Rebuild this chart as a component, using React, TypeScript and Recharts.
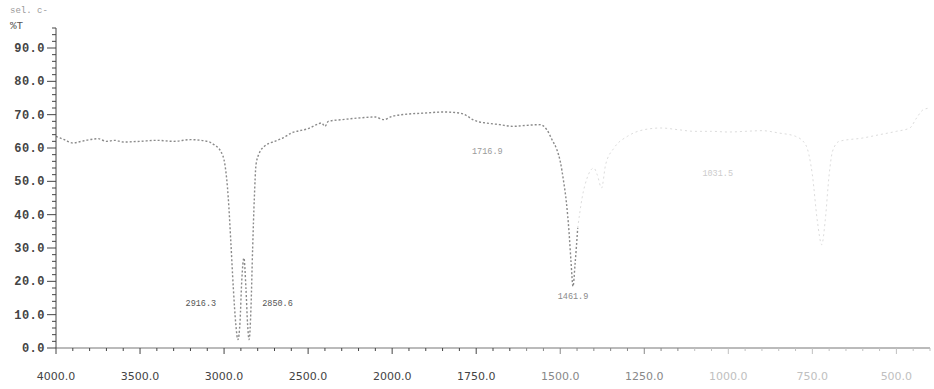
import { LineChart, Line, XAxis, YAxis, ReferenceDot } from "recharts";

// IR spectrum, %T vs wavenumber (cm-1); the axis changes scale at 2000
const wavenumbers = [
  4000, 3950, 3900, 3850, 3800, 3750, 3700, 3650, 3600, 3500, 3400, 3300, 3200, 3100, 3060, 3020,
  2995, 2975, 2960, 2945, 2930, 2918, 2905, 2895, 2882, 2870, 2860, 2851, 2840, 2830, 2820, 2810,
  2790, 2760, 2700, 2650, 2600, 2550, 2500, 2450, 2420, 2400, 2380, 2300, 2200, 2100, 2050, 2000,
  1950, 1900, 1850, 1800, 1780, 1760, 1740, 1720, 1680, 1640, 1600, 1560, 1540, 1524, 1510, 1500,
  1490, 1482, 1474, 1468, 1462, 1456, 1448,
];
const transmittance = [
  63.5, 62.5, 61.5, 62, 62.5, 62.8, 62, 62.3, 61.8, 62, 62.3, 62, 62.5, 62, 61, 59,
  55, 45, 32, 18, 7, 2.5, 8, 20, 27, 18, 7, 2.5, 12, 30, 45, 55,
  58.5, 60.5, 62, 63, 64.5, 65.2, 65.8, 67, 67.5, 66.5, 68, 68.5, 69, 69.3, 68.5, 69.5,
  70.2, 70.5, 70.8, 70.5, 69.8, 68.5, 67.8, 67.5, 67, 66.5, 66.8, 67, 65.5, 62.4, 59.5, 56,
  50, 44, 35, 26, 18.5, 25, 36,
];

// the low-wavenumber part is barely visible on the scan
const faintWavenumbers = [
  1448, 1435, 1420, 1400, 1390, 1377, 1365, 1340, 1300, 1250, 1200, 1150, 1100, 1050, 1000, 950,
  900, 850, 800, 770, 750, 735, 722, 712, 700, 690, 670, 600, 550, 500, 460, 440, 420, 400,
];
const faintTransmittance = [
  36, 45, 51, 54, 52, 48, 55, 60, 63.5, 65.5, 66, 65.5, 65, 65, 64.8, 65,
  65.2, 64.5, 63.5, 61, 52, 38, 31, 38, 52, 59, 62, 63, 64, 65, 66, 69, 71.5, 72,
];

const xTickLabels = [
  "4000.0", "3500.0", "3000.0", "2500.0", "2000.0", "1750.0", "1500.0", "1250.0", "1000.0", "750.0", "500.0",
];
const yTickLabels = ["0.0", "10.0", "20.0", "30.0", "40.0", "50.0", "60.0", "70.0", "80.0", "90.0"];

const peakWavenumbers = [2916.3, 2850.6, 1716.9, 1461.9, 1031.5];
const peakLabelLevels = [13.5, 13.5, 59, 15.5, 52.5];
const peakLabelSides = ["left", "right", "center", "center", "center"];
const peakLabelOffsets = [22, 13, 0, 0, 0];
const peakLabelColors = ["#555", "#555", "#9a9a9a", "#8a8a8a", "#cccccc"];

const toPos = (wn: number) => (wn >= 2000 ? (4000 - wn) / 500 : 4 + (2000 - wn) / 250);

const mainData = wavenumbers.map((wn, i) => ({ pos: toPos(wn), t: transmittance[i] }));
const faintData = faintWavenumbers.map((wn, i) => ({ pos: toPos(wn), t: faintTransmittance[i] }));

const xTicks = Array.from({ length: 53 }, (_, i) => Math.round(i * 2) / 10);
const yTicks = Array.from({ length: 49 }, (_, i) => i * 2);

const xColor = (v: number) => (v < 5.5 ? "#444" : v < 7.5 ? "#888" : "#c0c0c0");

const XTick = (props: any) => {
  const { x, y, payload } = props;
  const v = payload.value;
  const major = Math.abs(v - Math.round(v)) < 1e-6;
  const col = xColor(v);
  return (
    <g>
      <line x1={x} x2={x} y1={y} y2={y + (major ? 6 : 3)} stroke={col} />
      {major && (
        <text x={x} y={y + 32} textAnchor="middle" fontSize={11} fontFamily="DejaVu Sans" fill={col}>
          {xTickLabels[Math.round(v)]}
        </text>
      )}
    </g>
  );
};

const YTick = (props: any) => {
  const { x, y, payload } = props;
  const v = payload.value;
  const major = v % 10 === 0;
  return (
    <g>
      <line x1={x} x2={x - (major ? 9 : 4)} y1={y} y2={y} stroke="#444" />
      {major && (
        <text x={x - 11} y={y + 4} textAnchor="end" fontSize={12} fontFamily="Liberation Mono" fontWeight="bold" letterSpacing={0.5} fill="#444">
          {yTickLabels[v / 10]}
        </text>
      )}
    </g>
  );
};

export default function App() {
  return (
    <div style={{ position: "absolute", left: 0, top: 0, width: 934, height: 389, background: "#fff" }}>
      <div style={{ position: "absolute", left: 10, top: 6, fontSize: 9, fontFamily: "Liberation Mono", color: "#999" }}>
        sel. c-
      </div>
      <div style={{ position: "absolute", left: 10, top: 20, fontSize: 11, fontFamily: "Liberation Mono", color: "#555" }}>
        %T
      </div>
      <LineChart width={934} height={389} margin={{ top: 28, right: 4, bottom: 0, left: 0 }}>
        <XAxis
          type="number"
          dataKey="pos"
          domain={[0, 10.4]}
          ticks={xTicks}
          interval={0}
          tickSize={0}
          tickMargin={0}
          tickLine={false}
          tick={<XTick />}
          axisLine={{ stroke: "#777" }}
          height={41}
          allowDataOverflow
        />
        <YAxis
          type="number"
          domain={[0, 96]}
          ticks={yTicks}
          interval={0}
          tickSize={0}
          tickMargin={0}
          tickLine={false}
          tick={<YTick />}
          axisLine={{ stroke: "#444" }}
          width={56}
          allowDataOverflow
        />
        <Line
          data={faintData}
          dataKey="t"
          type="monotoneX"
          stroke="#dcdcdc"
          strokeWidth={1}
          strokeDasharray="2 3"
          dot={false}
          isAnimationActive={false}
        />
        <Line
          data={mainData}
          dataKey="t"
          type="monotoneX"
          stroke="#8a8a8a"
          strokeWidth={1.4}
          strokeDasharray="2 2"
          dot={false}
          isAnimationActive={false}
        />
        {peakWavenumbers.map((wn, i) => (
          <ReferenceDot
            key={wn}
            x={toPos(wn)}
            y={peakLabelLevels[i]}
            r={0}
            fill="none"
            stroke="none"
            label={{
              value: wn.toFixed(1),
              position: peakLabelSides[i] as any,
              offset: peakLabelOffsets[i],
              fill: peakLabelColors[i],
              fontSize: 8.5,
              fontFamily: "Liberation Mono",
            }}
          />
        ))}
      </LineChart>
    </div>
  );
}
